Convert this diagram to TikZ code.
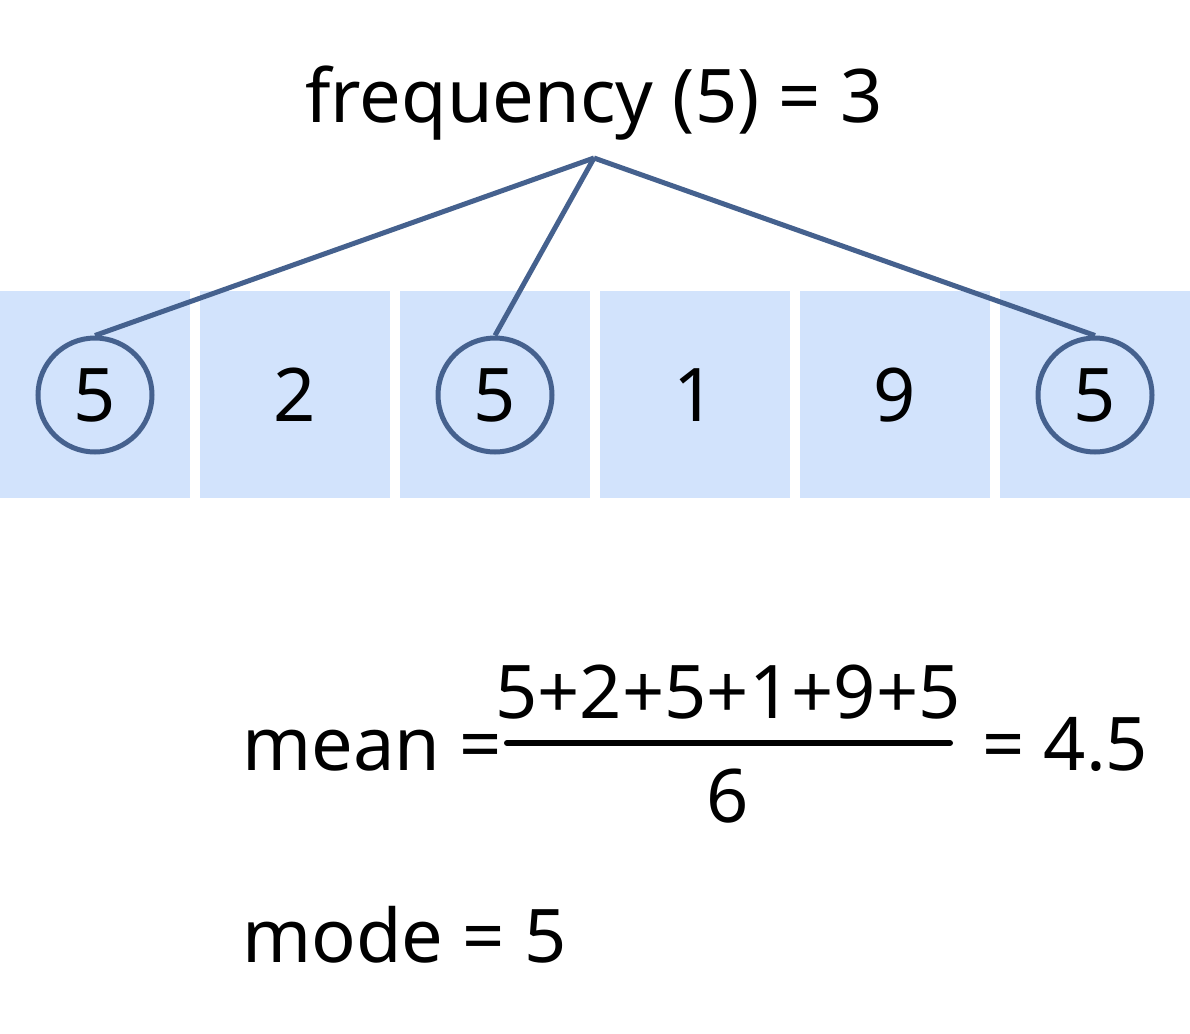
\documentclass[tikz,border=0pt]{standalone}
\usepackage{fontspec}
\setmainfont{Noto Sans}
\definecolor{cellc}{HTML}{D2E3FC}
\definecolor{linec}{HTML}{45618E}
\begin{document}
\begin{tikzpicture}[x=1pt,y=-1pt,
  cell/.style={fill=cellc,draw=none,minimum width=190pt,minimum height=207pt,inner sep=0pt},
  circ/.style={circle,draw=linec,line width=5pt,minimum size=114pt,inner sep=0pt},
  conn/.style={draw=linec,line width=5pt},
  txt/.style={font=\fontsize{74}{80}\selectfont,inner sep=0pt}]
\useasboundingbox (0,0) rectangle (1190,1033);
\foreach \i/\v in {0/5,1/2,2/5,3/1,4/9,5/5}{
  \node[cell] (c\i) at (95+200*\i,394.5) {};
}
\node[circ] (o0) at (95,395) {};
\node[circ] (o2) at (495,395) {};
\node[circ] (o5) at (1095,395) {};
\foreach \i/\v in {0/5,1/2,2/5,3/1,4/9,5/5}{
  \node[txt,anchor=base] (t\i) at (95+200*\i,421) {\v};
}
\node[txt,anchor=base] (title) at (594,122) {frequency (5) = 3};
\coordinate (apex) at (594,158);
\draw[conn] (apex) -- (o0.north);
\draw[conn] (apex) -- (o2.north);
\draw[conn] (apex) -- (o5.north);
\node[txt,anchor=base west] (mean) at (242,770) {mean =};
\coordinate (b1) at (507,743);
\coordinate (b2) at (950,743);
\draw[line width=6pt,line cap=round] (b1) -- (b2);
\node[txt,anchor=base] (num) at (728,718) {5+2+5+1+9+5};
\node[txt,anchor=base] (den) at (728,822) {6};
\node[txt,anchor=base west] (res) at (982,770) {= 4.5};
\node[txt,anchor=base west] (mode) at (242,962) {mode = 5};
\end{tikzpicture}
\end{document}
